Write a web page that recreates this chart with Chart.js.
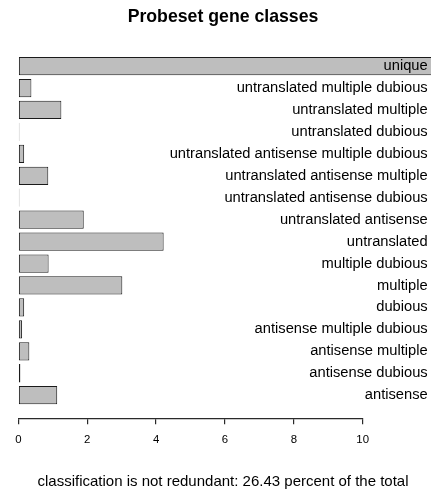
<!DOCTYPE html>
<html lang="en">
<head>
  <meta charset="UTF-8">
  <title>Probeset gene classes</title>
  <script src="https://cdn.jsdelivr.net/npm/chart.js"></script>
  <style>
    body {
      margin: 0;
      background: #ffffff;
    }
    #chart {
      display: block;
    }
  </style>
</head>
<body>
  <canvas id="chart" width="431" height="493"></canvas>

  <script>
    // gene classes, top to bottom
    const categories = [
      "unique",
      "untranslated multiple dubious",
      "untranslated multiple",
      "untranslated dubious",
      "untranslated antisense multiple dubious",
      "untranslated antisense multiple",
      "untranslated antisense dubious",
      "untranslated antisense",
      "untranslated",
      "multiple dubious",
      "multiple",
      "dubious",
      "antisense multiple dubious",
      "antisense multiple",
      "antisense dubious",
      "antisense"
    ];
    // percent of probesets (unique runs off the plot)
    const percents = [85.6, 0.38, 1.25, 0.03, 0.17, 0.87, 0.03, 1.90, 4.22, 0.88, 3.02, 0.17, 0.11, 0.32, 0.06, 1.13];
    const xTicks = [0, 2, 4, 6, 8, 10];
    const footNote = "classification is not redundant: 26.43 percent of the total";

    const fontFamily = "'Liberation Sans', Arial, Helvetica, sans-serif";
    Chart.defaults.font.family = fontFamily;
    Chart.defaults.color = "#000000";

    new Chart(document.getElementById("chart"), {
      type: "bar",
      data: {
        datasets: [{
          data: categories.map((c, i) => ({ x: percents[i], y: i })),
          backgroundColor: "#bebebe",
          borderColor: "#1a1a1a",
          borderWidth: 1,
          borderSkipped: false,
          categoryPercentage: 1,
          barPercentage: 1 / 1.2,
          clip: false
        }]
      },
      options: {
        indexAxis: "y",
        responsive: false,
        animation: false,
        layout: { padding: { left: 18.3, right: 3.3, top: 0, bottom: 0 } },
        plugins: {
          legend: { display: false },
          tooltip: { enabled: false },
          title: {
            display: true,
            text: "Probeset gene classes",
            font: { size: 17.7, weight: "bold" },
            padding: { top: 6.9, bottom: 14.9 }
          },
          subtitle: {
            display: true,
            position: "bottom",
            text: footNote,
            font: { size: 15, weight: "normal" },
            color: "#000000",
            padding: { top: 17.1, bottom: 2 }
          }
        },
        scales: {
          x: {
            type: "linear",
            min: 0,
            max: 10,
            afterBuildTicks: (scale) => { scale.ticks = xTicks.map(v => ({ value: v })); },
            grid: { drawOnChartArea: false, drawTicks: true, tickLength: 6, color: "#2a2a2a", lineWidth: 1.2 },
            border: { display: true, color: "#2a2a2a", width: 1.2 },
            ticks: { font: { size: 11.4 }, padding: 9, color: "#000000" }
          },
          y: {
            type: "linear",
            position: "right",
            reverse: true,
            offset: false,
            min: -1.05,
            max: categories.length + 0.05,
            afterBuildTicks: (scale) => { scale.ticks = categories.map((c, i) => ({ value: i })); },
            afterFit: (scale) => {
              scale.width = 65;
              scale.paddingTop = 0;
              scale.paddingBottom = 0;
            },
            grid: { display: false },
            border: { display: false },
            ticks: {
              z: 1,
              autoSkip: false,
              mirror: true,
              crossAlign: "near",
              padding: 65,
              font: { size: 14.7 },
              color: "#000000",
              callback: (value) => categories[value]
            }
          }
        }
      }
    });
  </script>
</body>
</html>
